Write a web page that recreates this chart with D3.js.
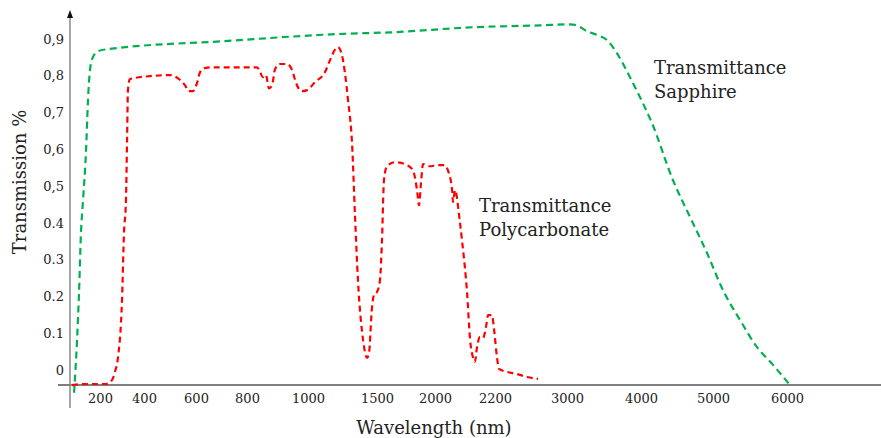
<!DOCTYPE html>
<meta charset="utf-8">
<script src="https://cdn.jsdelivr.net/npm/d3@7"></script>
<style>
  body { margin: 0; background: #fff; }
  text { font-family: "DejaVu Serif", serif; fill: #222; }
</style>
<div id="my_dataviz"></div>
<script>

// tick values of the (non linear) wavelength axis
var xTicks = [200, 400, 600, 800, 1000, 1500, 2000, 2200, 3000, 4000, 5000, 6000];
var yTicks = [0, 0.1, 0.2, 0.3, 0.4, 0.5, 0.6, 0.7, 0.8, 0.9];
var yTickLabels = ["0", "0.1", "0.2", "0.3", "0.4", "0,5", "0,6", "0,7", "0,8", "0,9"];

// sapphire transmittance (wavelength nm, fraction)
var sapphireWl = [27, 47, 60, 73, 87, 107, 120, 133, 153, 187, 232, 706, 1254, 1612, 2127, 2700,
  3041, 3135, 3270, 3419, 3541, 3676, 3851, 3986, 4153, 4444, 4681, 4917, 5135, 5365, 5595, 5811, 6040];
var sapphireT = [-0.062, 0.082, 0.209, 0.372, 0.462, 0.598, 0.734, 0.815, 0.851, 0.867, 0.872, 0.894, 0.914, 0.918, 0.932, 0.937,
  0.940, 0.937, 0.921, 0.910, 0.897, 0.861, 0.796, 0.742, 0.671, 0.516, 0.416, 0.318, 0.217, 0.136, 0.062, 0.014, -0.041];

// polycarbonate transmittance
var polyWl = [13, 100, 227, 255, 268, 282, 300, 309, 318, 323, 327, 336, 423, 500, 531, 558, 573, 588, 604, 616, 635, 667,
  833, 843, 852, 862, 872, 882, 892, 908, 931, 948, 961, 980, 997, 1051, 1123, 1159, 1203, 1217, 1246, 1268, 1290,
  1319, 1341, 1362, 1399, 1428, 1442, 1464, 1478, 1500, 1526, 1543, 1560, 1586, 1655, 1759, 1810, 1845, 1862, 1879,
  1897, 1957, 2007, 2033, 2043, 2057, 2060, 2067, 2073, 2077, 2090, 2107, 2117, 2127, 2133, 2140, 2150, 2160, 2170,
  2177, 2190, 2197, 2222, 2244, 2333, 2444, 2556, 2678];
var polyT = [-0.041, -0.038, -0.038, -0.027, -0.005, 0.035, 0.190, 0.372, 0.462, 0.625, 0.761, 0.791, 0.799, 0.802, 0.793,
  0.774, 0.758, 0.758, 0.780, 0.810, 0.821, 0.823,
  0.823, 0.810, 0.796, 0.802, 0.766, 0.774, 0.818, 0.832, 0.832, 0.815, 0.780, 0.758, 0.761, 0.783, 0.810, 0.842, 0.875,
  0.878, 0.856, 0.807, 0.734,
  0.617, 0.416, 0.245, 0.082, 0.033, 0.046, 0.171, 0.204, 0.212, 0.245, 0.353, 0.516, 0.554, 0.565, 0.557, 0.543, 0.489,
  0.448, 0.508,
  0.560, 0.554, 0.557, 0.557, 0.543, 0.489, 0.457, 0.489, 0.470, 0.443, 0.353, 0.209, 0.082, 0.033, 0.022, 0.062, 0.090,
  0.087, 0.117,
  0.149, 0.149, 0.109, 0.035, 0.003, -0.005, -0.011, -0.019, -0.024];

var W = 881, H = 438;

var svg = d3.select("#my_dataviz")
  .append("svg")
    .attr("width", W)
    .attr("height", H);

// piecewise scale: the axis is not evenly spaced
var x = d3.scaleLinear()
  .domain([0].concat(xTicks, [7000]))
  .range([70, 100, 144, 196, 247, 308, 377, 435, 495, 567, 641, 713, 787, 861]);

var y = d3.scaleLinear()
  .domain([0, 0.9])
  .range([370, 39]);

// axis lines
var axisY = y(-0.041);
svg.append("line")
  .attr("x1", 58).attr("x2", W)
  .attr("y1", axisY).attr("y2", axisY)
  .attr("stroke", "#555").attr("stroke-width", 1.5);
svg.append("line")
  .attr("x1", x(0)).attr("x2", x(0))
  .attr("y1", 16).attr("y2", 408)
  .attr("stroke", "#888").attr("stroke-width", 1.5);
svg.append("path")
  .attr("d", "M" + (x(0) - 3) + ",18L" + x(0) + ",10L" + (x(0) + 3) + ",18Z")
  .attr("fill", "#111");

// x tick labels
svg.append("g")
  .attr("transform", "translate(0," + axisY + ")")
  .call(d3.axisBottom(x).tickValues(xTicks).tickSize(0).tickPadding(9)
    .tickFormat(d3.format("d")))
  .call(g => g.select(".domain").remove())
  .selectAll("text")
    .style("font-family", "DejaVu Serif")
    .style("font-size", "13px")
    .attr("fill", "#222");

// y tick labels
svg.append("g")
  .attr("transform", "translate(64,0)")
  .call(d3.axisLeft(y).tickValues(yTicks).tickSize(0).tickPadding(0)
    .tickFormat((d, i) => yTickLabels[i]))
  .call(g => g.select(".domain").remove())
  .selectAll("text")
    .style("font-family", "DejaVu Serif")
    .style("font-size", "13px")
    .attr("fill", "#222");

// curves
var line = d3.line()
  .x(d => x(d[0]))
  .y(d => y(d[1]))
  .curve(d3.curveMonotoneX);

svg.append("path")
  .datum(sapphireWl.map((w, i) => [w, sapphireT[i]]))
  .attr("fill", "none")
  .attr("stroke", "#00b050")
  .attr("stroke-width", 2.2)
  .attr("stroke-dasharray", "7,4.5")
  .attr("d", line);

svg.append("path")
  .datum(polyWl.map((w, i) => [w, polyT[i]]))
  .attr("fill", "none")
  .attr("stroke", "#ff0000")
  .attr("stroke-width", 2.2)
  .attr("stroke-dasharray", "6,4")
  .attr("d", line);

// annotations
function label(px, py, lines) {
  var t = svg.append("text")
    .attr("x", px).attr("y", py)
    .style("font-size", "18px");
  lines.forEach(function(s, i) {
    t.append("tspan").attr("x", px).attr("dy", i == 0 ? 0 : 24).text(s);
  });
}
label(654, 74, ["Transmittance", "Sapphire"]);
label(479, 212, ["Transmittance", "Polycarbonate"]);

// titles
svg.append("text")
  .attr("x", 434).attr("y", 434)
  .attr("text-anchor", "middle")
  .style("font-size", "18px")
  .text("Wavelength (nm)");

svg.append("text")
  .attr("transform", "translate(26,182) rotate(-90)")
  .attr("text-anchor", "middle")
  .style("font-size", "18px")
  .text("Transmission %");

</script>
